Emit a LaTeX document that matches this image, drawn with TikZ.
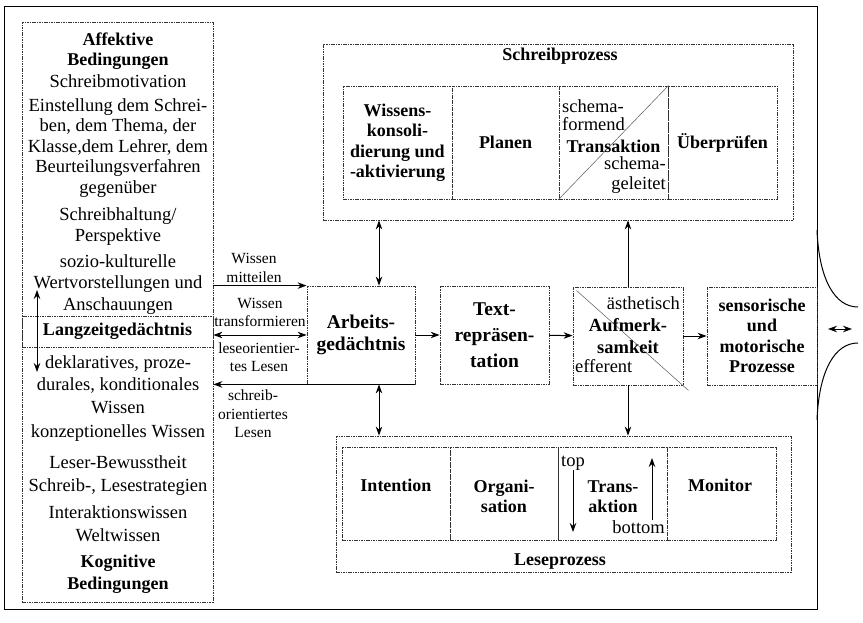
\documentclass[tikz,border=0pt]{standalone}
\usepackage{fontspec}
\setmainfont{Liberation Serif}
\usetikzlibrary{arrows.meta}

\begin{document}
\begin{tikzpicture}[x=1pt,y=-1pt,
  >={Stealth[length=9pt,width=6.5pt]},
  frame/.style={draw, line width=1pt},
  dbox/.style={draw=black!80, dash pattern=on 1.6pt off 0.8pt, line width=0.8pt},
  cell/.style={dbox, inner sep=0pt, minimum height=113pt},
  lcell/.style={dbox, inner sep=0pt, minimum height=93pt},
  mbox/.style={dbox, inner sep=0pt, minimum width=109pt, minimum height=98pt},
  txt/.style={font=\fontsize{18.5}{20.5}\selectfont, align=center, inner sep=0pt},
  btxt/.style={font=\fontsize{18}{20.5}\selectfont\bfseries, align=center, inner sep=0pt},
  small/.style={font=\fontsize{15.5}{18.5}\selectfont, align=center, inner sep=0pt},
  diag/.style={draw=black!65, line width=0.5pt},
  conn/.style={line width=1pt}]
\useasboundingbox (0,0) rectangle (863,623);
\draw[frame] (4,7) rectangle (817,609);

% Bedingungen
\node[dbox, minimum width=191pt, minimum height=580pt, inner sep=0pt] (cond) at (117.5,312) {};
\node[dbox, minimum width=191pt, minimum height=31pt, inner sep=0pt, btxt] (ltm) at (117.5,331.5) {Langzeitgedächtnis};
\node[btxt] (aff) at (118,51) {Affektive\\Bedingungen};
\node[txt] (motiv) at (118,81) {Schreibmotivation};
\node[txt] (einst) at (118,148) {Einstellung dem Schrei-\\ben, dem Thema, der\\Klasse,dem Lehrer, dem\\Beurteilungsverfahren\\gegenüber};
\node[txt] (haltung) at (118,226.5) {Schreibhaltung/\\Perspektive};
\node[txt, font=\fontsize{18.5}{21.5}\selectfont] (sozio) at (118,284.5) {sozio-kulturelle\\Wertvorstellungen und\\Anschauungen};
\node[txt, font=\fontsize{18.5}{22.5}\selectfont] (dekl) at (118,384.5) {deklaratives, proze-\\durales, konditionales\\Wissen};
\node[txt] (konz) at (118,433) {konzeptionelles Wissen};
\node[txt] (leser) at (118,462) {Leser-Bewusstheit};
\node[txt] (strat) at (118,487) {Schreib-, Lesestrategien};
\node[txt, font=\fontsize{18.5}{23}\selectfont] (inter) at (118,523.5) {Interaktionswissen\\Weltwissen};
\node[btxt, font=\fontsize{18}{22}\selectfont\bfseries] (kogn) at (118,574) {Kognitive\\Bedingungen};
\coordinate (ltmup) at (37,290);
\coordinate (ltmdown) at (37,372);
\draw[conn,<->] (ltmup) -- (ltmdown);

% Schreibprozess
\node[dbox, minimum width=470pt, minimum height=176pt, inner sep=0pt] (sp) at (558,132) {};
\node[btxt] (sptitle) at (560,56) {Schreibprozess};
\node[cell, minimum width=109pt, btxt] (wiss) at (397.5,142.5) {Wissens-\\konsoli-\\dierung und\\-aktivierung};
\node[cell, minimum width=107pt, btxt] (plan) at (505.5,142.5) {Planen};
\node[cell, minimum width=109pt] (trs) at (613.5,142.5) {};
\node[cell, minimum width=109pt, btxt] (pruef) at (722.5,142.5) {Überprüfen};
\draw[diag] (trs.south west) -- (trs.north east);
\node[txt, align=left, anchor=west, font=\fontsize{18.5}{18}\selectfont] (formend) at (562,115) {schema-\\formend};
\node[btxt] (trsname) at (613.5,146) {Transaktion};
\node[txt, align=right, anchor=east, font=\fontsize{18.5}{20}\selectfont] (geleitet) at (666,175) {schema-\\geleitet};

% mittlere Reihe
\node[mbox, minimum width=108pt, btxt, font=\fontsize{19.5}{22}\selectfont\bfseries] (arb) at (361,335) {Arbeits-\\gedächtnis};
\node[mbox, btxt, font=\fontsize{19.5}{26}\selectfont\bfseries] (trep) at (494.5,335) {Text-\\repräsen-\\tation};
\node[mbox, minimum width=110pt] (aufm) at (628,336) {};
\node[mbox, minimum width=110pt, btxt] (sens) at (762,336) {sensorische\\und\\motorische\\Prozesse};
\draw[diag] ([shift={(4,4)}]aufm.north west) -- ([shift={(5,5)}]aufm.south east);
\node[txt, anchor=east] (aesth) at (680,303) {ästhetisch};
\node[btxt, font=\fontsize{18.5}{22}\selectfont\bfseries] (aufname) at (628,336) {Aufmerk-\\samkeit};
\node[txt, anchor=west] (effer) at (575,366) {efferent};

\draw[conn,->] (arb) -- (trep);
\draw[conn,->] (trep) -- (aufm);
\draw[conn,->] (aufm) -- (sens);
\draw[conn,<->] ([xshift=18pt]arb.north) -- ([xshift=18pt]arb.north |- sp.south);
\draw[conn,->] (aufm.north) -- (aufm.north |- sp.south);

% Pfeile zum Langzeitgedaechtnis
\draw[conn,->] (cond.east |- arb.north west) -- (arb.north west);
\draw[conn,<->] (cond.east |- arb.west) -- (arb.west);
\draw[conn,->] (arb.south east) -- (cond.east |- arb.south);
\node[small] (mitteil) at (254,268) {Wissen\\mitteilen};
\node[small] (transf) at (260,312.5) {Wissen\\transformieren};
\node[small] (leseor) at (259,357) {leseorientier-\\tes Lesen};
\node[small] (schreibor) at (253,414) {schreib-\\orientiertes\\Lesen};

% Leseprozess
\node[dbox, minimum width=455pt, minimum height=136pt, inner sep=0pt] (lp) at (563.5,504) {};
\node[btxt] (lptitle) at (560,562) {Leseprozess};
\node[lcell, minimum width=108pt] (inten) at (396,493.5) {};
\node[lcell, minimum width=108pt] (orga) at (504,493.5) {};
\node[lcell, minimum width=109pt] (ltrs) at (612.5,493.5) {};
\node[lcell, minimum width=109pt] (moni) at (721.5,493.5) {};
\node[btxt] (intenname) at (396,485) {Intention};
\node[btxt] (organame) at (504,496.5) {Organi-\\sation};
\node[btxt] (ltrsname) at (613,496.5) {Trans-\\aktion};
\node[btxt] (moniname) at (720,485) {Monitor};
\node[txt, anchor=west] (top) at (561,463) {top};
\node[txt, anchor=east] (bottom) at (665,527) {bottom};
\coordinate (topA) at (573,470);
\coordinate (topB) at (573,532);
\coordinate (botA) at (652,520);
\coordinate (botB) at (652,458);
\draw[conn,->] (topA) -- (topB);
\draw[conn,->] (botA) -- (botB);

\draw[conn,->] (aufm.south) -- (aufm.south |- lp.north);
\draw[conn,<->] ([xshift=18pt]arb.south) -- ([xshift=18pt]arb.south |- lp.north);

% Umwelt
\coordinate (envA) at (817,230);
\coordinate (envB) at (858,307);
\coordinate (envC) at (858,343);
\coordinate (envD) at (817,420);
\draw[conn] (envA) .. controls (819,280) and (835,307) .. (envB);
\draw[conn] (envC) .. controls (835,343) and (819,370) .. (envD);
\coordinate (envL) at (828,329);
\coordinate (envR) at (852,329);
\draw[conn,<->] (envL) -- (envR);
\end{tikzpicture}
\end{document}
